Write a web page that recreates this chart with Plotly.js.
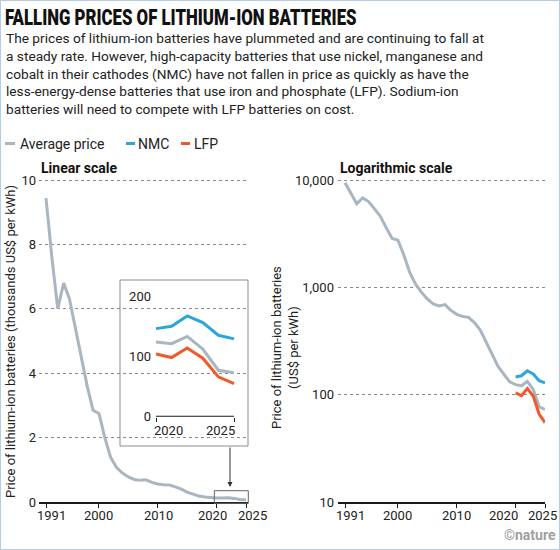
<!DOCTYPE html>
<html><head><meta charset="utf-8">
<script src="https://cdn.plot.ly/plotly-3.0.1.min.js"></script>
<style>html,body{margin:0;padding:0;background:#fff}#chart{width:560px;height:550px}</style>
</head><body><div id="chart"></div>
<script>
// ---- data ----
const years = [1991,1992,1993,1994,1995,1996,1997,1998,1999,2000,2001,2002,2003,2004,2005,2006,2007,2008,2009,2010,2011,2012,2013,2014,2015,2016,2017,2018,2019,2020,2021,2022,2023,2024,2025];
const avgPrice = [9440,7600,6000,6800,6300,5400,4600,3600,2850,2750,2000,1380,1070,900,780,700,672,690,610,560,535,525,470,400,305,240,184,155,132,124,121,133,112,77,73];
const recentYears = [2020,2021,2022,2023,2024,2025];
const nmcPrice = [146,150,167,156,135,129];
const lfpPrice = [104,98,114,97,66,55];
const xTickVals = [1991,2000,2010,2020,2025];
const xTickText = ['1991','2000','2010','2020','2025'];
const linTicks = [0,2,4,6,8,10];
const logTicks = [10,100,1000,10000];
const logTickText = ['10','100','1,000','10,000'];
const logMinor = [20,30,40,50,60,70,80,90,200,300,400,500,600,700,800,900,2000,3000,4000,5000,6000,7000,8000,9000];
const insetYTicks = [0,100,200];
const insetXTicks = [2020,2025];

// ---- helpers ----
const W = 560, H = 550;
const px = v => v / W;
const py = v => 1 - v / H;
const FONT = 'Roboto, "Noto Sans", sans-serif';
const GRAY = '#a9b6c2', BLUE = '#2ba6dd', ORANGE = '#f05a2a', INK = '#1a1a1a';

const avgThousands = avgPrice.map(v => v / 1000);
const avgRecent = avgPrice.slice(years.indexOf(recentYears[0]));

const line = c => ({color: c, width: 3});
const traces = [
  {x: years, y: avgThousands, xaxis: 'x', yaxis: 'y', mode: 'lines', line: line(GRAY), name: 'Average price'},
  {x: years, y: avgPrice, xaxis: 'x2', yaxis: 'y2', mode: 'lines', line: line(GRAY), name: 'Average price'},
  {x: recentYears, y: nmcPrice, xaxis: 'x2', yaxis: 'y2', mode: 'lines', line: line(BLUE), name: 'NMC'},
  {x: recentYears, y: lfpPrice, xaxis: 'x2', yaxis: 'y2', mode: 'lines', line: line(ORANGE), name: 'LFP'},
  {x: recentYears, y: avgRecent, xaxis: 'x3', yaxis: 'y3', mode: 'lines', line: line(GRAY), name: 'Average price'},
  {x: recentYears, y: nmcPrice, xaxis: 'x3', yaxis: 'y3', mode: 'lines', line: line(BLUE), name: 'NMC'},
  {x: recentYears, y: lfpPrice, xaxis: 'x3', yaxis: 'y3', mode: 'lines', line: line(ORANGE), name: 'LFP'}
];

const tickFont = {family: FONT, size: 13, color: '#222'};
const xBase = {
  tickmode: 'array', tickvals: xTickVals, ticks: 'outside', ticklen: 4, tickwidth: 1, tickcolor: INK,
  showticklabels: false, showline: true, linecolor: INK, linewidth: 2, showgrid: false, zeroline: false, fixedrange: true
};
const yGrid = {showgrid: true, gridcolor: '#8a8a8a', gridwidth: 1, griddash: 'dot', zeroline: false, ticks: '', tickfont: tickFont, fixedrange: true};

const layout = {
  width: W, height: H,
  margin: {l: 0, r: 0, t: 0, b: 0},
  paper_bgcolor: '#fff', plot_bgcolor: 'rgba(0,0,0,0)',
  showlegend: false,
  font: {family: FONT, color: '#222'},
  title: {
    text: 'FALLING PRICES OF LITHIUM-ION BATTERIES',
    x: px(5), xref: 'container', xanchor: 'left',
    y: 1 - 17.5 / H, yref: 'container', yanchor: 'middle',
    font: {family: FONT, size: 22, weight: 900, color: '#111'}
  },
  xaxis: Object.assign({}, xBase, {domain: [px(39), px(248)], range: [1989.81, 2025.34], anchor: 'y'}),
  yaxis: Object.assign({}, yGrid, {domain: [py(502), py(178)], range: [0, 10.062], tickmode: 'array', tickvals: linTicks, anchor: 'x', ticklabelstandoff: 2}),
  xaxis2: Object.assign({}, xBase, {domain: [px(338), px(545)], range: [1989.81, 2025], anchor: 'y2'}),
  yaxis2: Object.assign({}, yGrid, {
    type: 'log', domain: [py(502), py(178)], range: [1, 4.0186], tickmode: 'array', tickvals: logTicks, ticktext: logTickText,
    anchor: 'x2', ticklabelstandoff: 3
  }),
  // overlay axis carrying only the small intermediate log ticks
  yaxis4: {type: 'log', overlaying: 'y2', anchor: 'x2', side: 'left', range: [1, 4.0186], tickmode: 'array', tickvals: logMinor,
    ticks: 'inside', ticklen: 3, tickwidth: 1, tickcolor: '#9a9a9a', showticklabels: false, showgrid: false, zeroline: false, showline: false, fixedrange: true},
  xaxis3: {domain: [px(155), px(242)], range: [2019.936, 2025.513], anchor: 'y3', tickmode: 'array', tickvals: insetXTicks,
    ticks: 'outside', ticklen: 4, tickwidth: 1, tickcolor: INK, showticklabels: false, showline: false, showgrid: false, zeroline: false, fixedrange: true},
  yaxis3: {domain: [py(416.7), py(290)], range: [0, 210], anchor: 'x3', tickmode: 'array', tickvals: insetYTicks,
    showgrid: false, zeroline: false, ticks: '', tickfont: tickFont, ticklabelstandoff: 3, fixedrange: true},
  shapes: [],
  annotations: []
};

const S = layout.shapes, A = layout.annotations;
// outer frame
S.push({type: 'rect', xref: 'paper', yref: 'paper', x0: 0, x1: 1, y0: 0, y1: 1, line: {color: '#b3cde8', width: 2}, layer: 'above'});
// inset white panel (covers main gridlines) and border
S.push({type: 'rect', xref: 'x', yref: 'y', x0: 2003.58, x1: 2026, y0: 1.739, y1: 6.894, fillcolor: '#fff', line: {width: 0}, layer: 'below'});
S.push({type: 'rect', xref: 'paper', yref: 'paper', x0: px(120), x1: px(248), y0: py(446), y1: py(280), line: {color: '#8a8a8a', width: 1}, layer: 'above'});
// inset gridlines
insetYTicks.filter(v => v > 0).forEach(v => S.push({type: 'line', xref: 'x3 domain', yref: 'y3', x0: 0, x1: 1, y0: v, y1: v, line: {color: '#8a8a8a', width: 1, dash: 'dot'}, layer: 'below'}));
// inset axis line
S.push({type: 'line', xref: 'x3', yref: 'y3', x0: recentYears[0], x1: recentYears[recentYears.length - 1], y0: 0, y1: 0, line: {color: INK, width: 2}});
// highlight rectangle in main chart
S.push({type: 'rect', xref: 'paper', yref: 'paper', x0: px(214.3), x1: px(248.3), y0: py(503.3), y1: py(490.7), line: {color: '#666', width: 1}, layer: 'above'});
// legend swatches
const legend = [
  {name: 'Average price', color: GRAY, s0: 5, s1: 15, tx: 18},
  {name: 'NMC', color: BLUE, s0: 126, s1: 135, tx: 136},
  {name: 'LFP', color: ORANGE, s0: 181, s1: 190, tx: 192}
];
legend.forEach(l => {
  S.push({type: 'line', xref: 'paper', yref: 'paper', x0: px(l.s0), x1: px(l.s1), y0: py(143.5), y1: py(143.5), line: {color: l.color, width: 3}});
  A.push({xref: 'paper', yref: 'paper', x: px(l.tx), y: py(143.5), xanchor: 'left', yanchor: 'middle', showarrow: false, text: l.name, font: {family: FONT, size: 14, color: '#222'}});
});

// subtitle
A.push({xref: 'paper', yref: 'paper', x: px(4), y: py(28), xanchor: 'left', yanchor: 'top', align: 'left', showarrow: false,
  text: 'The prices of lithium-ion batteries have plummeted and are continuing to fall at<br>a steady rate. However, high-capacity batteries that use nickel, manganese and<br>cobalt in their cathodes (NMC) have not fallen in price as quickly as have the<br>less-energy-dense batteries that use iron and phosphate (LFP). Sodium-ion<br>batteries will need to compete with LFP batteries on cost.',
  font: {family: FONT, size: 13.7, color: '#222'}});

// panel labels
A.push({xref: 'paper', yref: 'paper', x: px(39), y: py(168), xanchor: 'left', yanchor: 'middle', showarrow: false, text: '<b>Linear scale</b>', font: {family: FONT, size: 14, color: '#111'}});
A.push({xref: 'paper', yref: 'paper', x: px(338), y: py(168), xanchor: 'left', yanchor: 'middle', showarrow: false, text: '<b>Logarithmic scale</b>', font: {family: FONT, size: 14, color: '#111'}});

// axis titles
A.push({xref: 'paper', yref: 'paper', x: px(10), y: py(342), xanchor: 'center', yanchor: 'middle', textangle: -90, showarrow: false,
  text: 'Price of lithium-ion batteries (thousands US$ per kWh)', font: {family: FONT, size: 13, color: '#222'}});
A.push({xref: 'paper', yref: 'paper', x: px(285), y: py(348), xanchor: 'center', yanchor: 'middle', textangle: -90, showarrow: false,
  text: 'Price of lithium-ion batteries<br>(US$ per kWh)', font: {family: FONT, size: 13, color: '#222'}});

// x tick labels (placed to avoid overlap as in the original)
const linShift = [5, 0, 1, -4, 6];
const logShift = [5, 0, 0, -12, -3];
xTickVals.forEach((v, i) => {
  A.push({xref: 'x', yref: 'paper', x: v, y: py(515), xshift: linShift[i], xanchor: 'center', yanchor: 'middle', showarrow: false, text: xTickText[i], font: tickFont});
  A.push({xref: 'x2', yref: 'paper', x: v, y: py(515), xshift: logShift[i], xanchor: 'center', yanchor: 'middle', showarrow: false, text: xTickText[i], font: tickFont});
});
// inset x labels
A.push({xref: 'x3', yref: 'paper', x: insetXTicks[0], y: py(430.5), xshift: -4, xanchor: 'left', yanchor: 'middle', showarrow: false, text: String(insetXTicks[0]), font: tickFont});
A.push({xref: 'x3', yref: 'paper', x: insetXTicks[1], y: py(430.5), xshift: 3, xanchor: 'right', yanchor: 'middle', showarrow: false, text: String(insetXTicks[1]), font: tickFont});

// arrow from inset to highlight
A.push({xref: 'paper', yref: 'paper', x: px(230), y: py(487), ax: 0, ay: -41, axref: 'pixel', ayref: 'pixel', text: '', showarrow: true,
  arrowhead: 2, arrowsize: 1, arrowwidth: 1, arrowcolor: '#333'});

// credit
A.push({xref: 'paper', yref: 'paper', x: px(558), y: py(535), xanchor: 'right', yanchor: 'middle', showarrow: false,
  text: '<b>©nature</b>', font: {family: FONT, size: 14, color: '#a0a0a0'}});

Plotly.newPlot('chart', traces, layout, {staticPlot: true, displayModeBar: false}).then(() => {
  // condense the headline horizontally to the original's compressed display face
  const t = document.querySelector('.gtitle');
  if (t) {
    const bb = t.getBBox();
    const target = 352;
    const s = target / bb.width;
    t.setAttribute('transform', 'translate(' + bb.x + ',0) scale(' + s + ',1) translate(' + (-bb.x) + ',0)');
  }
});
</script>
</body></html>
